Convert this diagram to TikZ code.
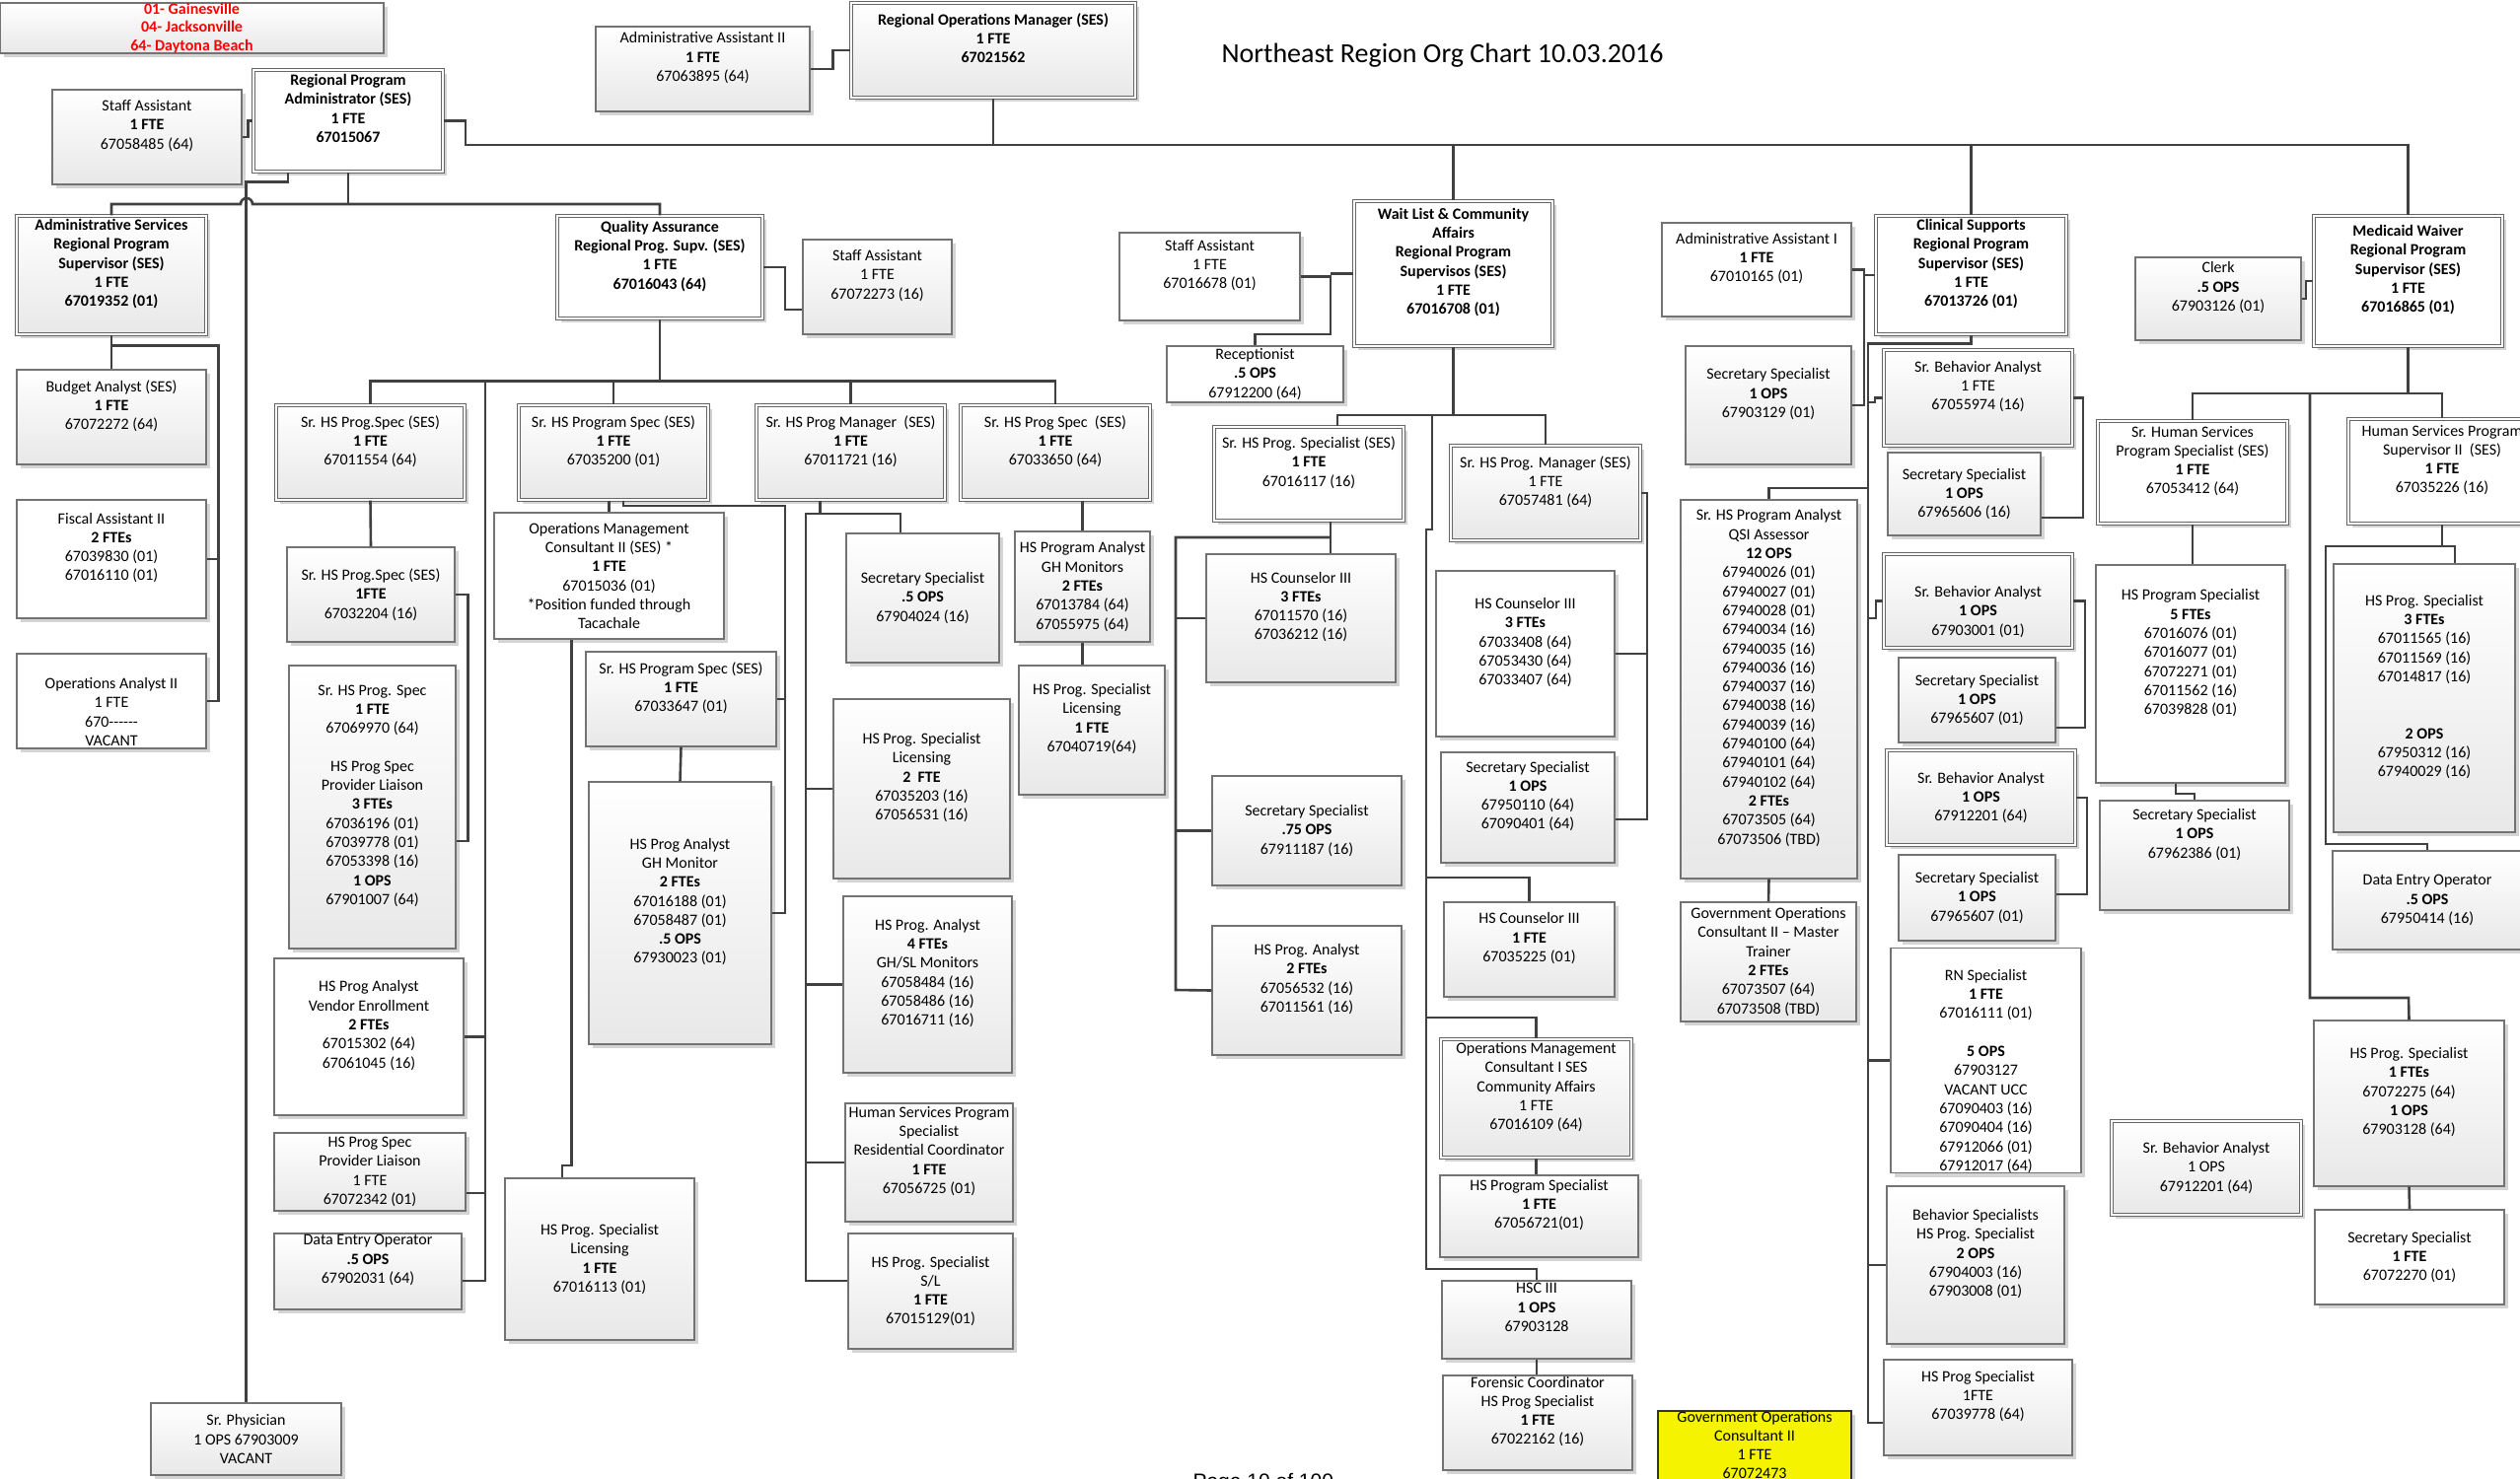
\documentclass[tikz,border=0pt]{standalone}
\usepackage{fontspec}
\setmainfont{Carlito}
\newfontfamily\pagefont{Liberation Sans}
\usepackage{tikz}
\usetikzlibrary{shadows}

\definecolor{linie}{RGB}{64,64,64}
\definecolor{govgelb}{RGB}{245,243,0}

\newcommand{\boxfont}{\fontsize{16}{19.3}\selectfont}
\newcommand{\lgfont}{\fontsize{16}{18.5}\selectfont\bfseries}
\def\orgpre{}\def\orgpost{}
% Kasten aus Eckpunkten (x1,y1) (x2,y2)
\newcommand{\orgbox}[7][gbox]{%
  \def\orgpre{}\def\orgpost{}%
  \node[#1, minimum width={#5-#3}, minimum height={#6-#4}] (#2) at ({(#3+#5)/2},{(#4+#6)/2}) {\orgpre#7\orgpost};}

\tikzset{
  bx/.style={draw=black!55, line width=1.2pt, align=center, font=\boxfont, inner sep=0pt,
    drop shadow={shadow xshift=4pt, shadow yshift=-4pt, fill=black!17, opacity=1}},
  gbox/.style={bx, top color=white, bottom color=black!9},
  wbox/.style={bx, fill=white},
  dbl/.style={double=white, double distance=2.4pt, draw=black!60, line width=1.1pt},
  fett/.style={font=\boxfont\bfseries},
  conn/.style={draw=linie, line width=2.6pt},
  txtup/.code={\def\orgpost{\\\strut}},
  txtuptwo/.code={\def\orgpost{\\\strut\\\strut}},
  txtdown/.code={\def\orgpre{\strut\\}},
}

\begin{document}
\begin{tikzpicture}[x=1pt,y=-1pt]
	\useasboundingbox (0,0) rectangle (2555,1499);
	\clip (0,0) rectangle (2555,1499);

	% Titel und Legende
	\node[font=\fontsize{28}{34}\selectfont, anchor=base west] (ttl) at (1235,63) {Northeast Region Org Chart 10.03.2016};
	\node[font=\pagefont\fontsize{21}{25}\selectfont, anchor=base west] (seite) at (1206,1509) {Page 10 of 100};
	\orgbox[gbox, text=red, font=\lgfont]{lg}{0}{3}{389}{54}{01- Gainesville\\04- Jacksonville\\64- Daytona Beach}

	% Leitung oben
	\orgbox[gbox,txtup]{sa1}{53}{91}{245}{187}{Staff Assistant\\\textbf{1 FTE}\\67058485 (64)}
	\orgbox[wbox,dbl,fett,txtup]{rpa}{257}{71}{449}{174}{Regional Program\\Administrator (SES)\\1 FTE\\67015067}
	\orgbox[gbox,txtup]{aa2}{604}{27}{821}{113}{Administrative Assistant II\\\textbf{1 FTE}\\67063895 (64)}
	\orgbox[gbox,dbl,fett,txtup]{rom}{863}{3}{1151}{99}{Regional Operations Manager (SES)\\1 FTE\\67021562}

	% Administrative Services
	\orgbox[gbox,dbl,fett,txtup]{asv}{17}{219}{209}{339}{Administrative Services\\Regional Program\\Supervisor (SES)\\1 FTE\\67019352 (01)}
	\orgbox[gbox,txtup]{bud}{17}{375}{209}{471}{Budget Analyst (SES)\\\textbf{1 FTE}\\67072272 (64)}
	\orgbox[wbox,txtup]{fis}{17}{507}{209}{627}{Fiscal Assistant II\\\textbf{2 FTEs}\\67039830 (01)\\67016110 (01)}
	\orgbox[wbox,txtdown]{opa}{17}{663}{209}{759}{Operations Analyst II\\1 FTE\\670{-}{-}{-}{-}{-}{-}\\VACANT}
	\orgbox[gbox]{phy}{153}{1423}{346}{1496}{Sr. Physician\\1 OPS 67903009\\VACANT}

	% Quality Assurance
	\orgbox[wbox,dbl,fett,txtup]{qa}{565}{219}{773}{323}{Quality Assurance\\Regional Prog. Supv. (SES)\\1 FTE\\67016043 (64)}
	\orgbox[gbox,txtup]{sa2}{814}{243}{965}{339}{Staff Assistant\\1 FTE\\67072273 (16)}
	\orgbox[gbox,dbl,txtup]{s554}{280}{411}{471}{507}{Sr. HS Prog.Spec (SES)\\\textbf{1 FTE}\\67011554 (64)}
	\orgbox[gbox]{s204}{291}{555}{461}{651}{Sr. HS Prog.Spec (SES)\\\textbf{1FTE}\\67032204 (16)}
	\orgbox[gbox,txtup]{s970}{293}{675}{462}{962}{Sr. HS Prog. Spec\\\textbf{1 FTE}\\67069970 (64)\\[19.3pt]HS Prog Spec\\Provider Liaison\\\textbf{3 FTEs}\\67036196 (01)\\67039778 (01)\\67053398 (16)\\\textbf{1 OPS}\\67901007 (64)}
	\orgbox[wbox,txtup]{ven}{278}{972}{470}{1131}{HS Prog Analyst\\Vendor Enrollment\\\textbf{2 FTEs}\\67015302 (64)\\67061045 (16)}
	\orgbox[gbox]{lia}{278}{1149}{472}{1228}{HS Prog Spec\\Provider Liaison\\1 FTE\\67072342 (01)}
	\orgbox[gbox,txtup]{de1}{278}{1251}{468}{1328}{Data Entry Operator\\\textbf{.5 OPS}\\67902031 (64)}
	\orgbox[gbox,dbl,txtup]{s200}{526}{411}{718}{507}{Sr. HS Program Spec (SES)\\\textbf{1 FTE}\\67035200 (01)}
	\orgbox[wbox]{omc2}{501}{520}{734}{648}{Operations Management\\Consultant II (SES) *\\\textbf{1 FTE}\\67015036 (01)\\*Position funded through\\Tacachale}
	\orgbox[gbox,txtup]{s647}{594}{661}{787}{757}{Sr. HS Program Spec (SES)\\\textbf{1 FTE}\\67033647 (01)}
	\orgbox[gbox,txtup]{ghm}{597}{793}{782}{1059}{HS Prog Analyst\\GH Monitor\\\textbf{2 FTEs}\\67016188 (01)\\67058487 (01)\\\textbf{.5 OPS}\\67930023 (01)}
	\orgbox[gbox]{lic1}{512}{1195}{704}{1359}{HS Prog. Specialist\\Licensing\\\textbf{1 FTE}\\67016113 (01)}
	\orgbox[gbox,dbl,txtup]{m721}{767}{411}{958}{507}{Sr. HS Prog Manager~ (SES)\\\textbf{1 FTE}\\67011721 (16)}
	\orgbox[gbox]{sec24}{858}{541}{1013}{672}{Secretary Specialist\\\textbf{.5 OPS}\\67904024 (16)}
	\orgbox[gbox,txtup]{lic2}{845}{709}{1024}{891}{HS Prog. Specialist\\Licensing\\\textbf{2~ FTE}\\67035203 (16)\\67056531 (16)}
	\orgbox[gbox,txtup]{an4}{855}{909}{1026}{1088}{HS Prog. Analyst\\\textbf{4 FTEs}\\GH/SL Monitors\\67058484 (16)\\67058486 (16)\\67016711 (16)}
	\orgbox[gbox,txtup]{rc}{857}{1119}{1027}{1239}{Human Services Program\\Specialist\\Residential Coordinator\\\textbf{1 FTE}\\67056725 (01)}
	\orgbox[gbox]{sl}{860}{1251}{1027}{1368}{HS Prog. Specialist\\S/L\\\textbf{1 FTE}\\67015129(01)}
	\orgbox[gbox,dbl,txtup]{s650}{974}{411}{1166}{507}{Sr. HS Prog Spec~ (SES)\\\textbf{1 FTE}\\67033650 (64)}
	\orgbox[gbox]{ghm2}{1029}{539}{1166}{651}{HS Program Analyst\\GH Monitors\\\textbf{2 FTEs}\\67013784 (64)\\67055975 (64)}
	\orgbox[gbox,txtup]{lic3}{1033}{675}{1181}{806}{HS Prog. Specialist\\Licensing\\\textbf{1 FTE}\\67040719(64)}

	% Wait List & Community Affairs
	\orgbox[wbox,dbl,fett,txtup]{wl}{1373}{204}{1574}{351}{Wait List \& Community\\Affairs\\Regional Program\\Supervisos (SES)\\1 FTE\\67016708 (01)}
	\orgbox[wbox,txtup]{sa3}{1135}{236}{1318}{325}{Staff Assistant\\1 FTE\\67016678 (01)}
	\orgbox[wbox]{rcp}{1183}{351}{1362}{408}{Receptionist\\\textbf{.5 OPS}\\67912200 (64)}
	\orgbox[wbox,dbl,txtup]{s117}{1231}{433}{1423}{528}{Sr. HS Prog. Specialist (SES)\\\textbf{1 FTE}\\67016117 (16)}
	\orgbox[gbox,txtup]{hc1}{1223}{562}{1415}{692}{HS Counselor III\\\textbf{3 FTEs}\\67011570 (16)\\67036212 (16)}
	\orgbox[gbox]{sec75}{1229}{787}{1421}{898}{Secretary Specialist\\\textbf{.75 OPS}\\67911187 (16)}
	\orgbox[gbox,txtup]{an2}{1229}{939}{1421}{1070}{HS Prog. Analyst\\\textbf{2 FTEs}\\67056532 (16)\\67011561 (16)}
	\orgbox[gbox,dbl,txtup]{m481}{1471}{452}{1663}{548}{Sr. HS Prog. Manager (SES)\\1 FTE\\67057481 (64)}
	\orgbox[wbox,txtup]{hc2}{1456}{579}{1637}{747}{HS Counselor III\\\textbf{3 FTEs}\\67033408 (64)\\67053430 (64)\\67033407 (64)}
	\orgbox[gbox,txtup]{sec110}{1461}{763}{1637}{875}{Secretary Specialist\\\textbf{1 OPS}\\67950110 (64)\\67090401 (64)}
	\orgbox[gbox,txtup]{hc3}{1464}{915}{1637}{1011}{HS Counselor III\\\textbf{1 FTE}\\67035225 (01)}
	\orgbox[gbox,dbl,txtup]{omc1}{1461}{1054}{1654}{1174}{Operations Management\\Consultant I SES\\Community Affairs\\1 FTE\\67016109 (64)}
	\orgbox[gbox,txtup]{hps1}{1460}{1192}{1661}{1275}{HS Program Specialist\\\textbf{1 FTE}\\67056721(01)}
	\orgbox[gbox,txtup]{hsc}{1462}{1299}{1654}{1378}{HSC III\\\textbf{1 OPS}\\67903128}
	\orgbox[gbox,txtup]{frn}{1463}{1395}{1655}{1491}{Forensic Coordinator\\HS Prog Specialist\\\textbf{1 FTE}\\67022162 (16)}

	% Clinical Supports
	\orgbox[wbox,txtup]{aa1}{1685}{226}{1877}{321}{Administrative Assistant I\\\textbf{1 FTE}\\67010165 (01)}
	\orgbox[gbox,txtup]{sec129}{1709}{351}{1877}{471}{Secretary Specialist\\\textbf{1 OPS}\\67903129 (01)}
	\orgbox[gbox,txtup]{qsi}{1704}{507}{1883}{891}{Sr. HS Program Analyst\\QSI Assessor\\\textbf{12 OPS}\\67940026 (01)\\67940027 (01)\\67940028 (01)\\67940034 (16)\\67940035 (16)\\67940036 (16)\\67940037 (16)\\67940038 (16)\\67940039 (16)\\67940100 (64)\\67940101 (64)\\67940102 (64)\\\textbf{2 FTEs}\\67073505 (64)\\67073506 (TBD)}
	\orgbox[gbox]{gov1}{1704}{915}{1882}{1036}{Government Operations\\Consultant II – Master\\Trainer\\\textbf{2 FTEs}\\67073507 (64)\\67073508 (TBD)}
	\orgbox[bx,fill=govgelb,draw=black!80,txtup]{gov2}{1681}{1431}{1877}{1525}{Government Operations\\Consultant II\\1 FTE\\67072473}
	\orgbox[wbox,dbl,fett,txtup]{cs}{1902}{219}{2095}{339}{Clinical Supports\\Regional Program\\Supervisor (SES)\\1 FTE\\67013726 (01)}
	\orgbox[gbox,dbl,txtup]{ba1}{1910}{355}{2101}{452}{Sr. Behavior Analyst\\1 FTE\\67055974 (16)}
	\orgbox[gbox]{sec606}{1914}{459}{2069}{543}{Secretary Specialist\\\textbf{1 OPS}\\67965606 (16)}
	\orgbox[gbox,dbl,txtdown]{ba2}{1910}{562}{2101}{657}{Sr. Behavior Analyst\\\textbf{1 OPS}\\67903001 (01)}
	\orgbox[gbox]{sec607a}{1925}{667}{2084}{753}{Secretary Specialist\\\textbf{1 OPS}\\67965607 (01)}
	\orgbox[gbox,dbl]{ba3}{1913}{761}{2104}{857}{Sr. Behavior Analyst\\\textbf{1 OPS}\\67912201 (64)}
	\orgbox[gbox]{sec607b}{1925}{867}{2084}{954}{Secretary Specialist\\\textbf{1 OPS}\\67965607 (01)}
	\orgbox[wbox,txtdown]{rn}{1917}{962}{2110}{1189}{RN Specialist\\\textbf{1 FTE}\\67016111 (01)\\[19.3pt]\textbf{5 OPS}\\67903127\\VACANT UCC\\67090403 (16)\\67090404 (16)\\67912066 (01)\\67912017 (64)}
	\orgbox[gbox,txtup]{bsp}{1913}{1203}{2093}{1363}{Behavior Specialists\\HS Prog. Specialist\\\textbf{2 OPS}\\67904003 (16)\\67903008 (01)}
	\orgbox[gbox,txtup]{hps2}{1910}{1379}{2101}{1476}{HS Prog Specialist\\1FTE\\67039778 (64)}

	% Medicaid Waiver
	\orgbox[gbox,txtup]{clk}{2165}{261}{2333}{345}{Clerk\\\textbf{.5 OPS}\\67903126 (01)}
	\orgbox[wbox,dbl,fett,txtup]{mw}{2346}{219}{2537}{351}{Medicaid Waiver\\Regional Program\\Supervisor (SES)\\1 FTE\\67016865 (01)}
	\orgbox[wbox,dbl,txtup]{shs}{2127}{427}{2319}{531}{Sr. Human Services\\Program Specialist (SES)\\\textbf{1 FTE}\\67053412 (64)}
	\orgbox[wbox,txtuptwo]{hps5}{2125}{573}{2317}{794}{HS Program Specialist\\\textbf{5 FTEs}\\67016076 (01)\\67016077 (01)\\67072271 (01)\\67011562 (16)\\67039828 (01)}
	\orgbox[gbox,txtuptwo]{sec386}{2129}{812}{2321}{923}{Secretary Specialist\\\textbf{1 OPS}\\67962386 (01)}
	\orgbox[wbox,dbl,txtup]{hsp2}{2381}{425}{2571}{531}{Human Services Program\\Supervisor II~ (SES)\\\textbf{1 FTE}\\67035226 (16)}
	\orgbox[gbox,txtup]{hps3}{2366}{572}{2550}{844}{HS Prog. Specialist\\\textbf{3 FTEs}\\67011565 (16)\\67011569 (16)\\67014817 (16)\\[38.6pt]\textbf{2 OPS}\\67950312 (16)\\67940029 (16)}
	\orgbox[gbox]{de2}{2365}{863}{2557}{963}{Data Entry Operator\\\textbf{.5 OPS}\\67950414 (16)}
	\orgbox[gbox,txtup]{hps4}{2346}{1035}{2539}{1203}{HS Prog. Specialist\\\textbf{1 FTEs}\\67072275 (64)\\\textbf{1 OPS}\\67903128 (64)}
	\orgbox[wbox]{sec270}{2347}{1227}{2539}{1323}{Secretary Specialist\\\textbf{1 FTE}\\67072270 (01)}
	\orgbox[gbox,dbl]{ba4}{2141}{1137}{2333}{1232}{Sr. Behavior Analyst\\1 OPS\\67912201 (64)}

	% Verbindungen oben
	\draw[conn] (sa1.east) -- ++(6,0) |- (rpa.west);
	\draw[conn] (aa2.east) -- ++(23,0) |- (rom.west);
	\draw[conn] (rpa.east) -| (472,147) -| (mw.north);
	\draw[conn] (rom.south) -- (rom.south |- 0,147);
	\draw[conn] (wl.north) -- (wl.north |- 0,147);
	\draw[conn] (cs.north) -- (cs.north |- 0,147);

	% Verbindungen links
	\draw[conn] (rpa.south) -- (rpa.south |- 0,207);
	\draw[conn] (asv.north) |- (244,207) arc[start angle=180, end angle=0, radius=6pt] -| (qa.north);
	\draw[conn] ([xshift=-61pt]rpa.south) -- ++(0,10) -| (phy.north);
	\draw[conn] (asv.south) -- (bud.north);
	\draw[conn] (asv.south) ++(0,11) -| ([xshift=12pt]opa.east) -- (opa.east);
	\draw[conn] (fis.east) -- ++(12,0);

	% Verbindungen Quality Assurance
	\coordinate (qbar) at (492,387);
	\draw[conn] (qa.east) -| (796,314) -- (sa2.west |- 0,314);
	\draw[conn] (qa.south) -- (qa.south |- 0,387);
	\draw[conn] (s554.north) -- ++(0,-24) -| (s650.north);
	\draw[conn] (s200.north) -- ++(0,-24);
	\draw[conn] (m721.north) -- ++(0,-24);
	\draw[conn] (qbar) |- (de1.east |- 0,1299);
	\draw[conn] (ven.east) -- (ven.east -| qbar);
	\draw[conn] (lia.east |- 0,1210) -- (qbar |- 0,1210);
	\draw[conn] (s554.south) -- (s204.north);
	\draw[conn] (s204.east) -- ++(13,0) |- (s970.east |- 0,853);
	\draw[conn] (s200.south -| omc2.north) -- (omc2.north);
	\draw[conn] ([xshift=10pt]s200.south) |- (796,513) |- (ghm.east);
	\draw[conn] (s647.east) -- (s647.east -| 796,0);
	\draw[conn] (s647.south) -- (ghm.north);
	\draw[conn] ([xshift=-38pt]omc2.south) |- (570,1182) -- (lic1.north -| 570,0);
	\draw[conn] ([xshift=-31pt]m721.south) -- ++(0,14);
	\draw[conn] (sec24.north -| 913,0) |- (817,521) |- (sl.west |- 0,1299);
	\draw[conn] (lic2.west) -- (lic2.west -| 817,0);
	\draw[conn] (an4.west) -- (an4.west -| 817,0);
	\draw[conn] (rc.west) -- (rc.west -| 817,0);
	\draw[conn] (ghm2.north |- s650.south) -- (ghm2.north);
	\draw[conn] (ghm2.south) -- (ghm2.south |- lic3.north);

	% Verbindungen Wait List
	\coordinate (wsp) at (1452,421);
	\coordinate (wsp2) at (1446,537);
	\coordinate (kn117) at (1349,545);
	\draw[conn] (wl.west) -- (wl.west -| 1349,0);
	\draw[conn] (sa3.east) -| (1349,339) -| (rcp.north);
	\draw[conn] (wl.south) -- ++(0,70);
	\draw[conn] (s117.north -| 1356,0) |- (1567,421) -- (m481.north);
	\draw[conn] (wsp) |- (wsp2) |- (1558,1287) -- (hsc.north);
	\draw[conn] (wsp2 |- 0,890) -| (hc3.north);
	\draw[conn] (wsp2 |- 0,1032) -| (omc1.north);
	\draw[conn] (s117.south -| 1349,0) -- (hc1.north -| 1349,0);
	\draw[conn] (kn117) -| (1192,1004) -- (an2.west);
	\draw[conn] (hc1.west) -- (hc1.west -| 1192,0);
	\draw[conn] (sec75.west) -- (sec75.west -| 1192,0);
	\draw[conn] (m481.east) -| (1670,831) -- (sec110.east |- 0,831);
	\draw[conn] (hc2.east) -- (hc2.east -| 1670,0);
	\draw[conn] (omc1.south) -- (omc1.south |- hps1.north);
	\draw[conn] (hsc.south) -- (hsc.south |- frn.north);

	% Verbindungen Clinical Supports
	\coordinate (csp) at (1894,348);
	\draw[conn] (aa1.east) -| (1890,279) -- (cs.west);
	\draw[conn] (aa1.east -| 1890,0) |- (sec129.east);
	\draw[conn] (cs.south) -- ++(0,9) -| (1894,1443) -- (hps2.west |- 0,1443);
	\draw[conn] (csp |- 0,408) -- (1901,408) |- (ba1.west);
	\draw[conn] (csp |- 0,495) -| (qsi.north);
	\draw[conn] (csp |- 0,627) -- (1902,627) |- (ba2.west);
	\draw[conn] (rn.west) -- (rn.west -| csp);
	\draw[conn] (bsp.west) -- (bsp.west -| csp);
	\draw[conn] (ba1.east) -| (2112,525) -- (sec606.east |- 0,525);
	\draw[conn] (ba2.east) -| (2114,738) -- (sec607a.east |- 0,738);
	\draw[conn] (ba3.east) -| (2116,907) -- (sec607b.east |- 0,907);
	\draw[conn] (qsi.south) -- (gov1.north);

	% Verbindungen Medicaid Waiver
	\coordinate (msp) at (2342,399);
	\draw[conn] (clk.east) -| (2338,285) -- (mw.west);
	\draw[conn] (mw.south) -- ++(0,48);
	\draw[conn] (shs.north) |- (hsp2.north |- 0,399) -- (hsp2.north);
	\draw[conn] (msp) |- (2442,1012) -- (hps4.north);
	\draw[conn] (shs.south) -- (shs.south |- hps5.north);
	\draw[conn] (hps5.south -| 2206,0) |- (sec386.north |- 0,805) -- (sec386.north);
	\draw[conn] (hsp2.south) -- ++(0,23);
	\draw[conn] (hps3.north -| 2489,0) |- (2358,554) |- (de2.north |- 0,856) -- (de2.north);
	\draw[conn] (hps4.south) -- (sec270.north);
\end{tikzpicture}
\end{document}
